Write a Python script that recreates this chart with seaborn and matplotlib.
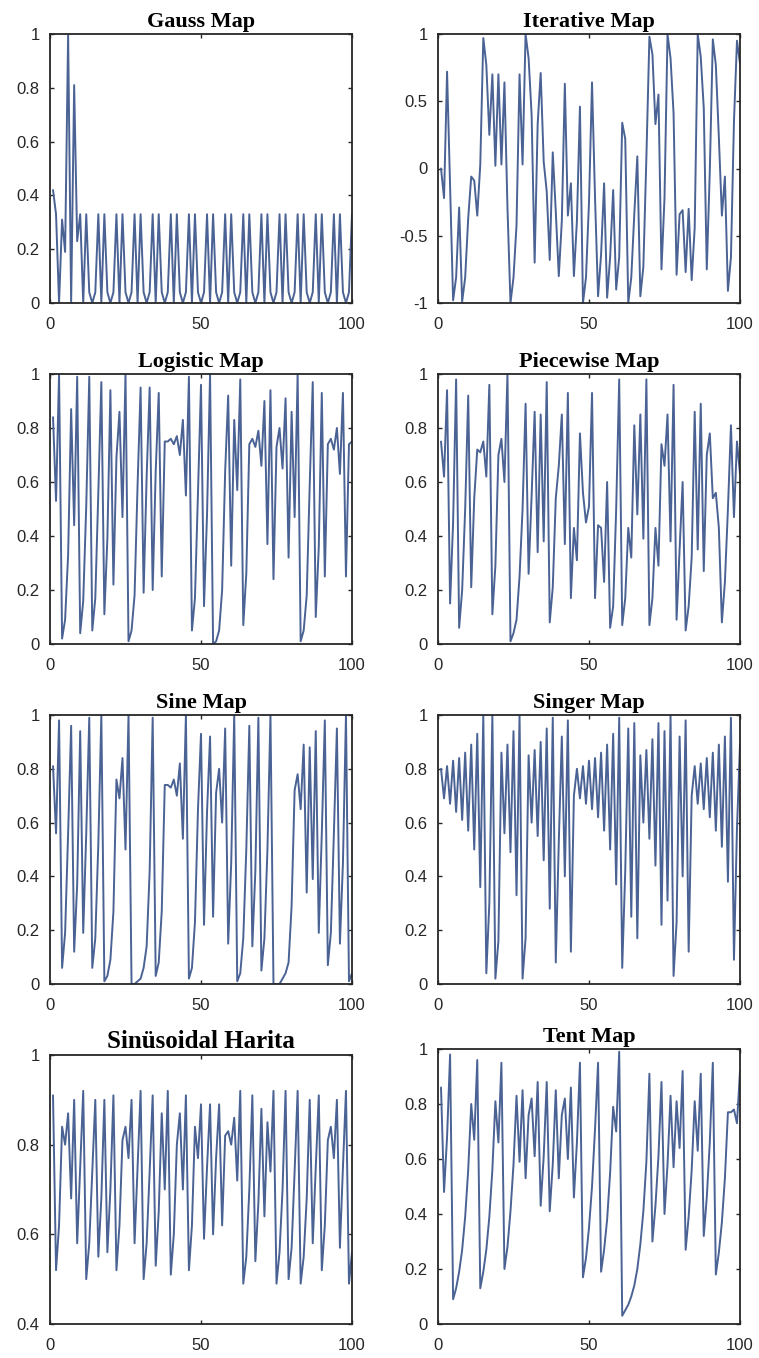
import seaborn as sns
import matplotlib.pyplot as plt
import numpy as np
import pandas as pd
from matplotlib.ticker import FuncFormatter

# iteration index shared by every map
steps = list(range(1, 101))

gauss = [0.42, 0.33, 0.00, 0.31, 0.19, 1.00, 0.00, 0.81, 0.23,
         0.33, 0.00, 0.33, 0.04, 0.00, 0.04,
         0.33, 0.00, 0.33, 0.04, 0.00, 0.04,
         0.33, 0.00, 0.33, 0.04, 0.00, 0.04,
         0.33, 0.00, 0.33, 0.04, 0.00, 0.04,
         0.33, 0.00, 0.33, 0.04, 0.00, 0.04,
         0.33, 0.00, 0.33, 0.04, 0.00, 0.04,
         0.33, 0.00, 0.33, 0.04, 0.00, 0.04,
         0.33, 0.00, 0.33, 0.04, 0.00, 0.04,
         0.33, 0.00, 0.33, 0.04, 0.00, 0.04,
         0.33, 0.00, 0.33, 0.04, 0.00, 0.04,
         0.33, 0.00, 0.33, 0.04, 0.00, 0.04,
         0.33, 0.00, 0.33, 0.04, 0.00, 0.04,
         0.33, 0.00, 0.33, 0.04, 0.00, 0.04,
         0.33, 0.00, 0.33, 0.04, 0.00, 0.04,
         0.33, 0.00, 0.33, 0.04, 0.00, 0.04,
         0.33]

iterative = [0.00, -0.22, 0.72, -0.13, -0.98, -0.81, -0.29, -0.99, -0.81, -0.37,
             -0.06, -0.09, -0.35, 0.03, 0.97, 0.77, 0.25, 0.70, 0.02, 0.70,
             0.03, 0.64, -0.29, -1.00, -0.81, -0.42, 0.70, 0.03, 1.00, 0.82,
             0.40, -0.70, 0.33, 0.71, 0.05, -0.17, -0.68, 0.12, -0.32, -0.80,
             -0.39, 0.63, -0.35, -0.11, -0.80, -0.39, 0.46, -1.00, -0.81, -0.25,
             0.64, -0.22, -0.95, -0.64, -0.11, -0.96, -0.66, -0.16, -0.90, -0.66,
             0.34, 0.22, -1.00, -0.81, -0.34, 0.09, -0.95, -0.73, 0.08, 0.98,
             0.85, 0.33, 0.55, -0.75, -0.22, 1.00, 0.82, 0.41, -0.79, -0.34,
             -0.31, -0.77, -0.30, -0.83, -0.44, 1.00, 0.83, 0.45, -0.75, -0.02,
             0.96, 0.77, 0.23, -0.35, -0.06, -0.91, -0.66, 0.35, 0.95, 0.78]

logistic = [0.84, 0.53, 1.00, 0.02, 0.09, 0.33, 0.87, 0.44, 0.99, 0.04,
            0.16, 0.51, 0.99, 0.05, 0.17, 0.56, 0.97, 0.11, 0.39, 0.94,
            0.22, 0.69, 0.86, 0.47, 1.00, 0.01, 0.05, 0.18, 0.59, 0.95,
            0.19, 0.62, 0.95, 0.20, 0.64, 0.93, 0.25, 0.75, 0.75, 0.76,
            0.74, 0.77, 0.70, 0.83, 0.55, 0.99, 0.05, 0.17, 0.56, 0.96,
            0.14, 0.48, 1.00, 0.00, 0.01, 0.05, 0.20, 0.64, 0.92, 0.29,
            0.83, 0.57, 0.98, 0.07, 0.26, 0.74, 0.76, 0.73, 0.79, 0.66,
            0.90, 0.37, 0.94, 0.24, 0.73, 0.80, 0.65, 0.91, 0.32, 0.86,
            0.47, 1.00, 0.01, 0.05, 0.18, 0.59, 0.97, 0.10, 0.36, 0.93,
            0.25, 0.74, 0.76, 0.72, 0.80, 0.63, 0.93, 0.25, 0.74, 0.75]

piecewise = [0.75, 0.62, 0.94, 0.15, 0.45, 0.98, 0.06, 0.20, 0.50, 0.92,
             0.21, 0.54, 0.72, 0.71, 0.75, 0.62, 0.96, 0.11, 0.29, 0.70,
             0.76, 0.60, 1.00, 0.01, 0.04, 0.09, 0.25, 0.50, 0.89, 0.26,
             0.55, 0.86, 0.34, 0.85, 0.38, 0.97, 0.08, 0.21, 0.54, 0.66,
             0.85, 0.37, 0.93, 0.17, 0.43, 0.31, 0.78, 0.56, 0.45, 0.51,
             0.93, 0.17, 0.44, 0.43, 0.23, 0.60, 0.06, 0.14, 0.50, 0.98,
             0.07, 0.17, 0.43, 0.32, 0.81, 0.48, 0.85, 0.39, 0.98, 0.07,
             0.17, 0.43, 0.29, 0.74, 0.66, 0.85, 0.38, 0.96, 0.09, 0.35,
             0.60, 0.05, 0.14, 0.32, 0.86, 0.35, 0.89, 0.27, 0.70, 0.78,
             0.54, 0.56, 0.43, 0.08, 0.23, 0.50, 0.81, 0.47, 0.75, 0.63]

sine = [0.81, 0.56, 0.98, 0.06, 0.19, 0.56, 0.96, 0.12, 0.37, 0.94,
        0.19, 0.56, 0.99, 0.06, 0.17, 0.52, 1.00, 0.01, 0.03, 0.09,
        0.27, 0.76, 0.69, 0.84, 0.50, 1.00, 0.00, 0.00, 0.01, 0.02,
        0.06, 0.14, 0.42, 0.99, 0.03, 0.08, 0.27, 0.74, 0.74, 0.73,
        0.76, 0.70, 0.82, 0.54, 1.00, 0.02, 0.06, 0.23, 0.65, 0.93,
        0.22, 0.64, 0.92, 0.25, 0.71, 0.80, 0.60, 0.95, 0.15, 0.45,
        1.00, 0.01, 0.04, 0.17, 0.50, 0.96, 0.14, 0.42, 0.99, 0.05,
        0.17, 0.50, 1.00, 0.00, 0.00, 0.00, 0.02, 0.04, 0.08, 0.29,
        0.72, 0.78, 0.65, 0.89, 0.34, 0.88, 0.39, 0.94, 0.19, 0.56,
        0.98, 0.07, 0.19, 0.56, 0.95, 0.15, 0.45, 1.00, 0.01, 0.04]

singer = [0.80, 0.69, 0.81, 0.67, 0.83, 0.64, 0.84, 0.61, 0.86, 0.57,
          0.89, 0.50, 0.93, 0.36, 1.00, 0.04, 0.30, 1.00, 0.02, 0.16,
          0.86, 0.56, 0.89, 0.49, 0.94, 0.33, 1.00, 0.02, 0.17, 0.85,
          0.60, 0.87, 0.55, 0.90, 0.46, 0.95, 0.28, 0.99, 0.08, 0.53,
          0.92, 0.40, 0.98, 0.12, 0.70, 0.80, 0.69, 0.81, 0.67, 0.83,
          0.65, 0.84, 0.62, 0.86, 0.57, 0.89, 0.50, 0.93, 0.37, 0.99,
          0.06, 0.42, 0.95, 0.25, 0.97, 0.17, 0.85, 0.60, 0.87, 0.54,
          0.91, 0.44, 0.97, 0.22, 0.94, 0.31, 1.00, 0.03, 0.23, 0.92,
          0.40, 0.98, 0.12, 0.70, 0.81, 0.67, 0.82, 0.65, 0.84, 0.62,
          0.86, 0.57, 0.89, 0.51, 0.92, 0.38, 0.99, 0.09, 0.58, 0.89]

sinusoidal = [0.91, 0.52, 0.62, 0.84, 0.80, 0.87, 0.68, 0.90, 0.58, 0.75,
              0.92, 0.50, 0.58, 0.74, 0.90, 0.55, 0.68, 0.90, 0.56, 0.70,
              0.91, 0.52, 0.62, 0.81, 0.84, 0.77, 0.90, 0.58, 0.75, 0.92,
              0.50, 0.58, 0.74, 0.91, 0.53, 0.65, 0.87, 0.70, 0.92, 0.51,
              0.60, 0.80, 0.87, 0.70, 0.91, 0.52, 0.62, 0.84, 0.77, 0.89,
              0.59, 0.75, 0.89, 0.60, 0.77, 0.89, 0.62, 0.82, 0.83, 0.80,
              0.86, 0.72, 0.92, 0.49, 0.55, 0.70, 0.91, 0.54, 0.67, 0.88,
              0.64, 0.85, 0.74, 0.92, 0.49, 0.56, 0.70, 0.92, 0.50, 0.57,
              0.74, 0.92, 0.49, 0.55, 0.68, 0.90, 0.58, 0.75, 0.91, 0.52,
              0.62, 0.81, 0.84, 0.77, 0.90, 0.57, 0.75, 0.92, 0.49, 0.56]

tent = [0.86, 0.48, 0.68, 0.98, 0.09, 0.13, 0.19, 0.27, 0.39, 0.56,
        0.80, 0.67, 0.96, 0.13, 0.19, 0.27, 0.39, 0.56, 0.81, 0.66,
        0.95, 0.20, 0.28, 0.41, 0.58, 0.83, 0.59, 0.85, 0.53, 0.76,
        0.82, 0.61, 0.88, 0.43, 0.61, 0.88, 0.41, 0.58, 0.85, 0.53,
        0.76, 0.82, 0.60, 0.86, 0.46, 0.66, 0.95, 0.17, 0.24, 0.35,
        0.50, 0.71, 0.95, 0.19, 0.27, 0.38, 0.55, 0.79, 0.70, 0.99,
        0.03, 0.05, 0.07, 0.10, 0.14, 0.20, 0.29, 0.41, 0.59, 0.91,
        0.30, 0.43, 0.61, 0.88, 0.40, 0.58, 0.83, 0.57, 0.81, 0.64,
        0.92, 0.27, 0.39, 0.56, 0.81, 0.63, 0.91, 0.32, 0.46, 0.66,
        0.95, 0.18, 0.26, 0.37, 0.53, 0.77, 0.77, 0.78, 0.73, 0.92]

titles = ['Gauss Map', 'Iterative Map', 'Logistic Map', 'Piecewise Map',
          'Sine Map', 'Singer Map', 'Sinüsoidal Harita', 'Tent Map']
series = [gauss, iterative, logistic, piecewise, sine, singer, sinusoidal, tent]
ylims = [(0, 1), (-1, 1), (0, 1), (0, 1), (0, 1), (0, 1), (0.4, 1), (0, 1)]
yticks = [[0, 0.2, 0.4, 0.6, 0.8, 1], [-1, -0.5, 0, 0.5, 1],
          [0, 0.2, 0.4, 0.6, 0.8, 1], [0, 0.2, 0.4, 0.6, 0.8, 1],
          [0, 0.2, 0.4, 0.6, 0.8, 1], [0, 0.2, 0.4, 0.6, 0.8, 1],
          [0.4, 0.6, 0.8, 1], [0, 0.2, 0.4, 0.6, 0.8, 1]]
xticks = [0, 50, 100]

#%% style
sns.set_style('ticks')
plt.rcParams['font.family'] = ['Liberation Sans', 'DejaVu Sans']
plt.rcParams['xtick.direction'] = 'in'
plt.rcParams['ytick.direction'] = 'in'
plt.rcParams['xtick.top'] = True
plt.rcParams['ytick.right'] = True

W, H = 759, 1358
# axes boxes in pixels: left, top, right, bottom
boxes = [(50, 34, 352, 303), (438, 34, 740, 303),
         (50, 374, 352, 644), (438, 374, 740, 644),
         (50, 715, 352, 984), (438, 715, 740, 984),
         (50, 1055, 352, 1324), (438, 1049, 740, 1324)]

fig = plt.figure(figsize=(W / 100, H / 100), dpi=100)
line_col = '#4a6294'
dark = '#262626'

for i in range(8):
    l, t, r, b = boxes[i]
    ax = fig.add_axes([l / W, 1 - b / H, (r - l) / W, (b - t) / H])
    sns.lineplot(x=steps, y=series[i], ax=ax, color=line_col, linewidth=1.4)
    ax.set_xlim(0, 100)
    ax.set_ylim(*ylims[i])
    ax.set_xticks(xticks)
    ax.set_yticks(yticks[i])
    ax.yaxis.set_major_formatter(FuncFormatter(lambda v, p: '%g' % v))
    ax.tick_params(axis='both', labelsize=12, colors=dark, length=3, width=1)
    ax.tick_params(axis='x', pad=10)
    ax.tick_params(axis='y', pad=7.5)
    for s in ax.spines.values():
        s.set_color(dark)
        s.set_linewidth(1.3)
    fs = 18 if i == 6 else 16
    ax.set_title(titles[i], fontfamily='Liberation Serif', fontweight='bold',
                 fontsize=fs, pad=5, color='black')
    ax.set_xlabel('')
    ax.set_ylabel('')

plt.savefig('out.png', dpi=100)
